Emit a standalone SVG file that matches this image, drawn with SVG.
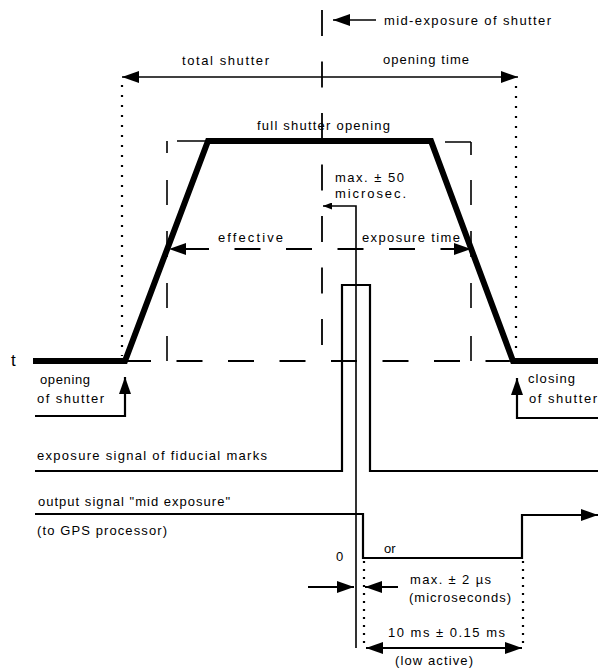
<svg xmlns="http://www.w3.org/2000/svg" width="598" height="670" viewBox="0 0 598 670">
<defs>
<style>
text{font-family:"Liberation Sans",Arial,sans-serif;font-size:13px;fill:#000}
.ln{fill:none;stroke:#000;stroke-width:1.6}
.thick{fill:none;stroke:#000;stroke-width:6;stroke-linejoin:miter}
.sig{fill:none;stroke:#000;stroke-width:2.2}
.dash{fill:none;stroke:#000;stroke-width:1.8;stroke-dasharray:26 25.5}
.dot{fill:none;stroke:#000;stroke-width:2.2;stroke-dasharray:2 8}
.dotb{fill:none;stroke:#000;stroke-width:2.2;stroke-dasharray:2 6}
</style>
<marker id="ah" viewBox="0 0 17 12" markerWidth="17" markerHeight="12" refX="17" refY="6" orient="auto-start-reverse" markerUnits="userSpaceOnUse">
<path d="M0,0 L17,6 L0,12 z" fill="#000"/>
</marker>
<marker id="ahs" viewBox="0 0 9 7" markerWidth="9" markerHeight="7" refX="9" refY="3.5" orient="auto-start-reverse" markerUnits="userSpaceOnUse">
<path d="M0,0 L9,3.5 L0,7 z" fill="#000"/>
</marker>
</defs>
<rect width="598" height="670" fill="#fff"/>

<g id="shutter-curve">
<polyline class="thick" points="33,361 125,361 208,141 431,141 513,361 598,361"/>
</g>

<g id="effective-box">
<path class="ln" d="M177,141 H206 M167,141 V153 M167,180 V205 M167,231 V257 M167,283 V308 M167,336 V361"/>
<path class="ln" d="M445,142 H471 M471,142 V155 M471,180 V205 M471,231 V257 M471,283 V308 M471,336 V361"/>
<line class="dash" x1="125" y1="361" x2="513" y2="361"/>
</g>

<g id="fiducial-signal">
<polyline class="sig" points="35,471 342,471 342,285 370,285 370,471 598,471"/>
</g>

<g id="output-signal">
<polyline class="sig" points="35,514 363,514 363,558 522,558 522,515 598,515" marker-end="url(#ah)"/>
</g>

<g id="connectors">
<line class="dash" x1="322" y1="10" x2="322" y2="345"/>
<line class="ln" x1="376" y1="20" x2="333" y2="20" marker-end="url(#ah)"/>
<line class="ln" x1="122" y1="77" x2="518" y2="77" marker-start="url(#ah)" marker-end="url(#ah)"/>
<line class="dot" x1="122" y1="85" x2="122" y2="356"/>
<line class="dot" x1="516" y1="86" x2="516" y2="350"/>
<line class="dash" x1="169" y1="249" x2="471" y2="249" stroke-dashoffset="37.5" marker-start="url(#ah)" marker-end="url(#ah)"/>
<polyline class="ln" points="356,648 356,206 323,206" stroke-width="2.4" marker-end="url(#ahs)"/>
<polyline class="sig" points="35,416 125,416 125,377" marker-end="url(#ah)"/>
<polyline class="sig" points="598,418 517,418 517,378" marker-end="url(#ah)"/>
<line class="dotb" x1="364" y1="561" x2="364" y2="643"/>
<line class="dotb" x1="523" y1="561" x2="523" y2="643"/>
<line class="sig" x1="308" y1="587" x2="354" y2="587" marker-end="url(#ah)"/>
<line class="sig" x1="398" y1="587" x2="365" y2="587" marker-end="url(#ah)"/>
<line class="sig" x1="366" y1="648" x2="522" y2="648" marker-start="url(#ah)" marker-end="url(#ah)"/>
</g>

<g id="labels">
<text x="384" y="25" textLength="167">mid-exposure of shutter</text>
<text x="182" y="65" textLength="87">total shutter</text>
<text x="383" y="64" textLength="86">opening time</text>
<text x="257" y="130" textLength="133">full shutter opening</text>
<text x="335" y="182" textLength="69">max. ± 50</text>
<text x="335" y="198" textLength="71">microsec.</text>
<text x="218" y="242" textLength="65">effective</text>
<text x="362" y="242" textLength="98">exposure time</text>
<text x="11" y="366" style="font-size:17px">t</text>
<text x="40" y="384" textLength="50">opening</text>
<text x="37" y="403" textLength="67">of shutter</text>
<text x="528" y="383" textLength="47">closing</text>
<text x="529" y="403" textLength="68">of shutter</text>
<text x="37" y="460" textLength="230">exposure signal of fiducial marks</text>
<text x="38" y="506" textLength="192">output signal "mid exposure"</text>
<text x="37" y="535" textLength="130">(to GPS processor)</text>
<text x="336" y="561">0</text>
<text x="384" y="553">or</text>
<text x="410" y="584" textLength="81">max. ± 2 µs</text>
<text x="409" y="602" textLength="102">(microseconds)</text>
<text x="388" y="637" textLength="117">10 ms ± 0.15 ms</text>
<text x="395" y="665" textLength="78">(low active)</text>
</g>
</svg>
